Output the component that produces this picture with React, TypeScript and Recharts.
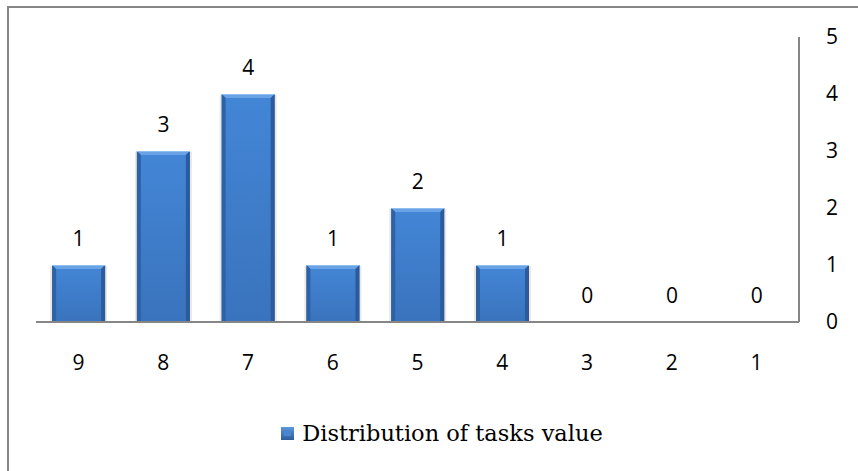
import React from 'react';
import { BarChart, Bar, XAxis, YAxis, Legend, LabelList } from 'recharts';

const categories = ['9', '8', '7', '6', '5', '4', '3', '2', '1'];
const taskValues = [1, 3, 4, 1, 2, 1, 0, 0, 0];
const yTicks = [0, 1, 2, 3, 4, 5];
const seriesName = 'Distribution of tasks value';

const data = categories.map((c, i) => ({ name: c, value: taskValues[i] }));

const LABEL_FONT = '"Open Sans", "Liberation Sans", sans-serif';
const LABEL_SIZE = 21;

const BevelBar = (props: any) => {
  const { x, y, width, height } = props;
  if (!height || height <= 0) return null;
  const b = 4;
  return (
    <g>
      <rect x={x - 2} y={y + 1} width={width + 4} height={height - 1} fill="#ece8e0" />
      <rect x={x} y={y} width={width} height={height} fill="url(#barBody)" />
      <polygon points={`${x},${y} ${x + width},${y} ${x + width - b},${y + b} ${x + b},${y + b}`} fill="#6aa2e6" />
      <polygon points={`${x},${y} ${x + b},${y + b} ${x + b},${y + height} ${x},${y + height}`} fill="#2e62a6" />
      <polygon points={`${x + width},${y} ${x + width - b},${y + b} ${x + width - b},${y + height} ${x + width},${y + height}`} fill="#2b5b9c" />
      <line x1={x} y1={y + 0.5} x2={x + width} y2={y + 0.5} stroke="#8fbef0" strokeWidth={1} />
    </g>
  );
};

const LegendContent = () => (
  <div style={{ display: 'flex', justifyContent: 'center', alignItems: 'center', height: 36 }}>
    <svg width={13} height={13} style={{ marginRight: 8 }}>
      <defs>
        <linearGradient id="legGrad" x1="0" y1="0" x2="0" y2="1">
          <stop offset="0" stopColor="#5d97dc" />
          <stop offset="1" stopColor="#2c5d9c" />
        </linearGradient>
      </defs>
      <rect x={0} y={0} width={13} height={13} fill="url(#legGrad)" />
      <rect x={3} y={3} width={7} height={6} fill="#4a86d0" />
    </svg>
    <span style={{ fontFamily: '"DejaVu Serif", "Liberation Serif", serif', fontSize: 22.5, color: '#000' }}>{seriesName}</span>
  </div>
);

export default function App() {
  return (
    <div style={{ position: 'absolute', left: 0, top: 0, width: 858, height: 471, overflow: 'hidden', background: '#fff' }}>
      <div style={{ position: 'absolute', left: 7, top: 6, width: 900, height: 520, border: '2.5px solid #868686', boxSizing: 'border-box' }} />
      <div style={{ position: 'absolute', left: 0, top: 0 }}>
        <BarChart width={858} height={471} data={data} margin={{ top: 37, right: 0, left: 36, bottom: 53 }} barCategoryGap="19%">
          <defs>
            <linearGradient id="barBody" x1="0" y1="0" x2="0" y2="1">
              <stop offset="0" stopColor="#4386d6" />
              <stop offset="1" stopColor="#3a73bd" />
            </linearGradient>
          </defs>
          <XAxis
            dataKey="name"
            height={60}
            axisLine={{ stroke: '#868686', strokeWidth: 2 }}
            tickLine={false}
            tickSize={0}
            tickMargin={33}
            tick={{ fill: '#000', fontSize: LABEL_SIZE, fontFamily: LABEL_FONT }}
            interval={0}
          />
          <YAxis
            orientation="right"
            width={59}
            domain={[0, 5]}
            ticks={yTicks}
            axisLine={{ stroke: '#868686', strokeWidth: 2 }}
            tickLine={false}
            tickSize={0}
            tickMargin={27}
            tick={{ fill: '#000', fontSize: LABEL_SIZE, fontFamily: LABEL_FONT, textAnchor: 'start' }}
          />
          <Legend
            verticalAlign="bottom"
            content={<LegendContent />}
            wrapperStyle={{ left: 13, width: 858, top: 415, height: 36 }}
          />
          <Bar dataKey="value" name={seriesName} shape={<BevelBar />} isAnimationActive={false}>
            <LabelList dataKey="value" position="top" offset={19} style={{ fill: '#000', fontSize: LABEL_SIZE, fontFamily: LABEL_FONT }} />
          </Bar>
        </BarChart>
      </div>
    </div>
  );
}
